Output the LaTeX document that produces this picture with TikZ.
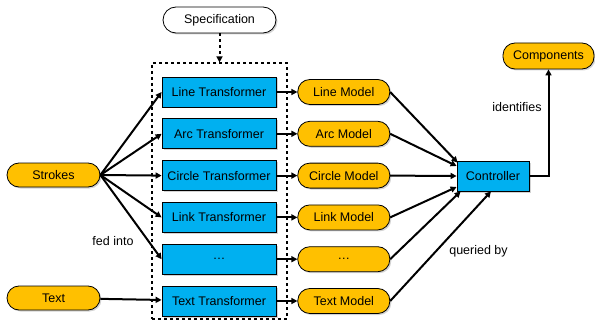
\documentclass[tikz,border=0pt]{standalone}
\usepackage{fontspec}
\setmainfont{Liberation Sans}
\usepackage{tikz}
\usetikzlibrary{positioning,arrows.meta,shadows}
\definecolor{tblue}{HTML}{00B0F0}
\definecolor{mgold}{HTML}{FFC000}

\begin{document}
\begin{tikzpicture}[x=1pt,y=-1pt,>={Triangle[length=6pt,width=6pt]},
  font=\fontsize{12.5}{15}\selectfont,
  shade/.style={drop shadow={opacity=0.35,shadow xshift=1.5pt,shadow yshift=-1.5pt}},
  trans/.style={draw,line width=0.8pt,fill=tblue,shade,minimum width=114pt,minimum height=30pt,inner sep=0pt},
  model/.style={draw,line width=0.8pt,fill=mgold,shade,rounded corners=12pt,minimum width=92pt,minimum height=25pt,inner sep=0pt},
  flow/.style={->,line width=2pt}]
\useasboundingbox (0,0) rectangle (595,321);
\node[draw,line width=0.8pt,fill=white,shade,rounded corners=13pt,minimum width=113pt,minimum height=26pt,inner sep=0pt] (spec) at (219.5,20) {Specification};
\node[draw,dashed,line width=1.2pt,minimum width=135pt,minimum height=256pt,inner sep=0pt] (grp) at (219.5,191) {};
\node[trans] (t1) at (219,92) {Line Transformer};
\node[trans,below=11pt of t1] (t2) {Arc Transformer};
\node[trans,below=11pt of t2] (t3) {Circle Transformer};
\node[trans,below=11pt of t3] (t4) {Link Transformer};
\node[trans,below=11pt of t4] (t5) {\dots};
\node[trans,below=11pt of t5] (t6) {Text Transformer};
\node[model,right=21pt of t1] (m1) {Line Model};
\node[model,right=21pt of t2] (m2) {Arc Model};
\node[model,right=21pt of t3] (m3) {Circle Model};
\node[model,right=21pt of t4] (m4) {Link Model};
\node[model,right=21pt of t5] (m5) {\dots};
\node[model,right=21pt of t6] (m6) {Text Model};
\node[model,minimum width=93pt,minimum height=24pt] (strokes) at (53.5,175) {Strokes};
\node[model,minimum width=93pt,minimum height=24pt] (text) at (53.5,298) {Text};
\node[trans,minimum width=72pt] (ctrl) at (493,176) {Controller};
\node[model,minimum width=91pt,minimum height=26pt] (comp) at (548.5,56) {Components};
\node (fed) at (113,241) {fed into};
\node (qry) at (478.5,251) {queried by};
\node (ident) at (517,107) {identifies};
\draw[flow,dashed] (spec) -- (grp);
\foreach \i in {1,...,5}
  \draw[flow] (strokes.east) -- (t\i.west);
\draw[flow] (text) -- (t6);
\foreach \i in {1,...,6}
  \draw[flow] (t\i) -- (m\i);
\draw[flow] (m1.east) -- ([xshift=1pt,yshift=-2pt]ctrl.north west);
\draw[flow] (m2.east) -- ([yshift=10pt]ctrl.west);
\draw[flow] (m3.east) -- (ctrl.west);
\draw[flow] (m4.east) -- ([yshift=-11pt]ctrl.west);
\draw[flow] (m5.east) -- ([xshift=4pt]ctrl.south west);
\draw[flow] (m6.east) -- ([xshift=-2pt]ctrl.south);
\draw[flow] (ctrl.east) -| (comp.south);
\end{tikzpicture}
\end{document}
